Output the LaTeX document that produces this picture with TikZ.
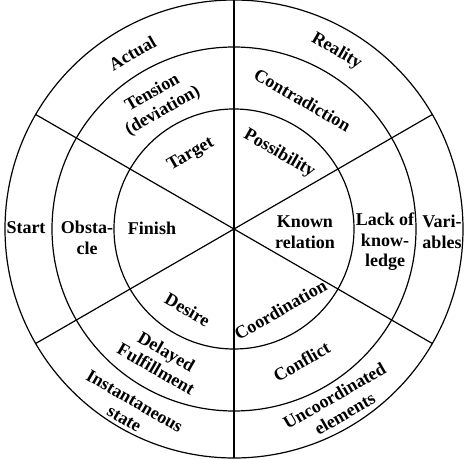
\documentclass[tikz,border=0pt]{standalone}
\usepackage{fontspec}
\setmainfont{Liberation Serif}
\usetikzlibrary{positioning}
\tikzset{
  wring/.style={draw=black,line width=1.2pt},
  wspoke/.style={draw=black,line width=1.2pt},
  wlbl/.style={font=\fontsize{18}{20.5}\selectfont\bfseries,text=black,align=center,inner sep=1pt},
}
\begin{document}
\begin{tikzpicture}[x=1pt,y=1pt]
  \useasboundingbox (-234,-231) rectangle (240,229);
  \coordinate (C) at (0,0);

  % rings and spokes
  \foreach \r in {120,182,229}{\draw[wring] (C) circle[radius=\r];}
  \foreach \a in {90,150,30}{\draw[wspoke] (\a:229) -- (\a+180:229);}

  % top left
  \node[wlbl,rotate=30] (Actual) at (120:203) {Actual};
  \node[wlbl,rotate=30] (Tension) at (121:148) {Tension\\(deviation)};
  \node[wlbl,rotate=30] (Target) at (120:86) {Target};
  % top right
  \node[wlbl,rotate=-30] (Reality) at (60:205) {Reality};
  \node[wlbl,rotate=-30] (Contra) at (62:146) {Contradiction};
  \node[wlbl,rotate=-30] (Possib) at (59:88) {Possibility};
  % left
  \node[wlbl] (Start) at (-208,1) {Start};
  \node[wlbl] (Obstacle) at (-147,-9) {Obsta-\\cle};
  \node[wlbl] (Finish) at (-82,1) {Finish};
  % right
  \node[wlbl] (Known) at (71,-3) {Known\\relation};
  \node[wlbl] (Lack) at (151,-13) {Lack of\\know-\\ledge};
  \node[wlbl] (Vari) at (208,-3) {Vari-\\ables};
  % bottom left
  \node[wlbl,rotate=-30] (Desire) at (240:93) {Desire};
  \node[wlbl,rotate=-30] (Delayed) at (241:150) {Delayed\\Fulfillment};
  \node[wlbl,rotate=-30] (Instant) at (240:209) {Instantaneous\\state};
  % bottom right
  \node[wlbl,rotate=30] (Coord) at (300:93) {Coordination};
  \node[wlbl,rotate=30] (Conflict) at (297:149) {Conflict};
  \node[wlbl,rotate=30] (Uncoord) at (301:205) {Uncoordinated\\elements};
\end{tikzpicture}
\end{document}
